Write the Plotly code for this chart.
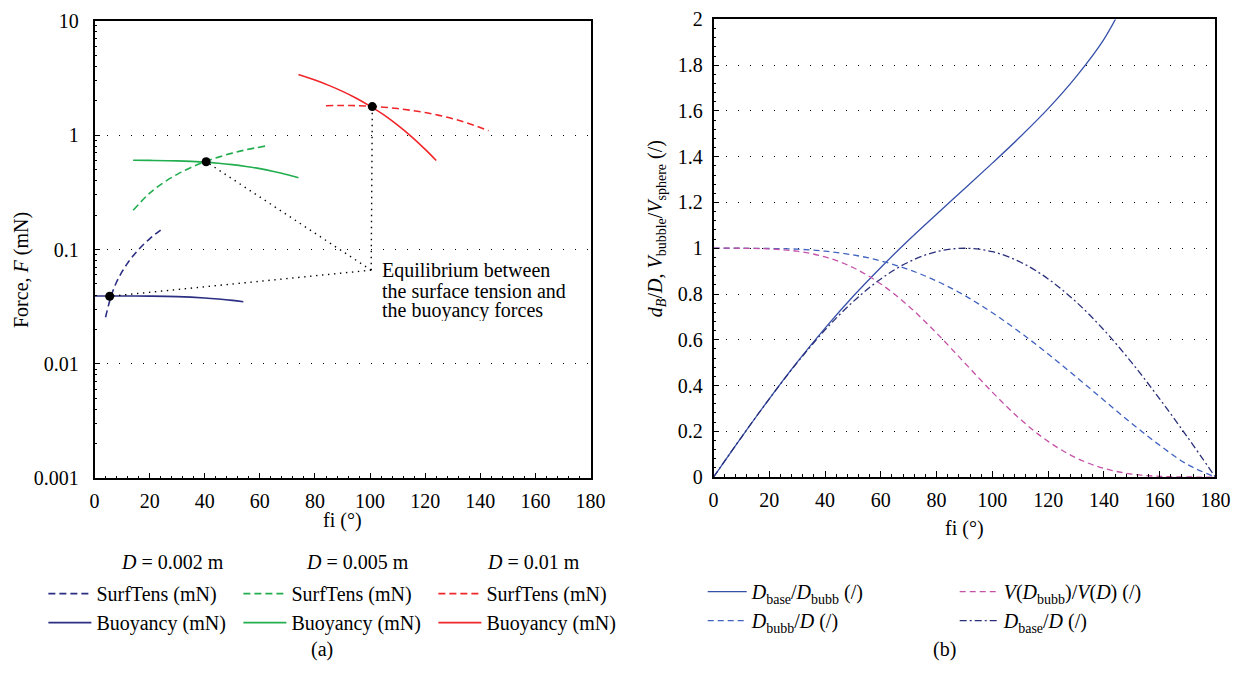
import plotly.graph_objects as go

W, H = 1256, 678
FONT = "Liberation Serif"

# ---------------- data: panel (a) ----------------
# D = 0.002 m
st1_x = [4, 6, 8, 10, 12, 14, 16, 18, 20, 22, 24]
st1_y = [0.0256, 0.039, 0.052, 0.064, 0.076, 0.088, 0.100, 0.112, 0.124, 0.136, 0.148]
by1_x = [0, 10, 20, 30, 40, 45, 50, 54]
by1_y = [0.0392, 0.0392, 0.0391, 0.0387, 0.0377, 0.0369, 0.0359, 0.0349]
# D = 0.005 m
st2_x = [14, 20, 25, 30, 35, 40, 45, 50, 55, 62]
st2_y = [0.220, 0.311, 0.384, 0.454, 0.521, 0.584, 0.642, 0.696, 0.744, 0.802]
by2_x = [14, 20, 30, 40, 45, 50, 55, 60, 65, 70, 74]
by2_y = [0.603, 0.601, 0.595, 0.580, 0.568, 0.552, 0.532, 0.509, 0.481, 0.450, 0.423]
# D = 0.01 m
st3_x = [84, 90, 95, 100, 105, 110, 115, 120, 125, 130, 135, 143]
st3_y = [1.806, 1.816, 1.809, 1.788, 1.754, 1.706, 1.646, 1.573, 1.488, 1.391, 1.284, 1.093]
by3_x = [74, 80, 85, 90, 95, 100, 105, 110, 115, 120, 124]
by3_y = [3.38, 3.03, 2.72, 2.41, 2.10, 1.79, 1.50, 1.22, 0.97, 0.75, 0.60]

# equilibrium points and the annotation anchor
eq_x = [5.5, 40.5, 100.8]
eq_y = [0.039, 0.585, 1.775]
anchor_x, anchor_y = 100.4, 0.066

# ---------------- data: panel (b) ----------------
fi = [0, 10, 20, 30, 40, 50, 60, 70, 80, 90, 100, 110, 120, 130, 140, 150, 160, 170, 180]
dbase_dbubb_x = [0, 10, 20, 30, 40, 50, 60, 70, 80, 90, 100, 110, 120, 130, 140, 150]
dbase_dbubb = [0, 0.174, 0.342, 0.502, 0.651, 0.789, 0.916, 1.036, 1.149, 1.26,
               1.372, 1.487, 1.61, 1.749, 1.913, 2.14]
dbubb_d = [1.0, 1.0, 0.999, 0.996, 0.987, 0.971, 0.945, 0.907, 0.857, 0.794,
           0.718, 0.632, 0.538, 0.438, 0.336, 0.234, 0.139, 0.055, 0.0]
v_ratio = [1.0, 1.0, 0.997, 0.987, 0.962, 0.916, 0.844, 0.747, 0.629, 0.5,
           0.371, 0.253, 0.156, 0.084, 0.038, 0.013, 0.003, 0.0005, 0.0]
dbase_d = [0, 0.174, 0.342, 0.5, 0.643, 0.766, 0.866, 0.94, 0.985, 1.0,
           0.985, 0.94, 0.866, 0.766, 0.643, 0.5, 0.342, 0.174, 0]

log_ticks = [0.001, 0.01, 0.1, 1, 10]
log_ticktext = ["0.001", "0.01", "0.1", "1", "10"]
log_minor = [m * 10.0 ** e for e in range(-3, 1) for m in range(2, 10)]

NAVY = "#2b2e83"
GREEN = "#22ad4e"
RED = "#f0262b"
BLUE_S = "#3550a8"
BLUE_D = "#4062c0"
MAGENTA = "#c552a8"
NAVY_DD = "#2a2f7a"


def fx(p):
    return p / W


def fy(p):
    return 1 - p / H


fig = go.Figure()

groups = [
    ("d1", NAVY, st1_x, st1_y, by1_x, by1_y),
    ("d2", GREEN, st2_x, st2_y, by2_x, by2_y),
    ("d3", RED, st3_x, st3_y, by3_x, by3_y),
]
for g, col, sx, sy, bx, by in groups:
    fig.add_trace(go.Scatter(x=sx, y=sy, mode="lines", line=dict(color=col, width=1.6, dash="7px,4px", shape="spline"),
                             name="SurfTens (mN)", legendgroup=g, legend="legend", xaxis="x", yaxis="y"))
    fig.add_trace(go.Scatter(x=bx, y=by, mode="lines", line=dict(color=col, width=1.6, shape="spline"),
                             name="Buoyancy (mN)", legendgroup=g, legend="legend", xaxis="x", yaxis="y"))

# leader lines from the annotation to each equilibrium point
lx, ly = [], []
for x, y in zip(eq_x, eq_y):
    lx += [anchor_x, x, None]
    ly += [anchor_y, y, None]
fig.add_trace(go.Scatter(x=lx, y=ly, mode="lines", line=dict(color="black", width=1.4, dash="1.4px,4.6px"),
                         showlegend=False, hoverinfo="skip", xaxis="x", yaxis="y"))
fig.add_trace(go.Scatter(x=eq_x, y=eq_y, mode="markers", marker=dict(color="black", size=9),
                         showlegend=False, xaxis="x", yaxis="y"))

# panel (b)
fig.add_trace(go.Scatter(x=dbase_dbubb_x, y=dbase_dbubb, mode="lines",
                         line=dict(color=BLUE_S, width=1.3, shape="spline"),
                         name="<i>D</i><sub>base</sub>/<i>D</i><sub>bubb</sub> (/)", legendgroup="c1",
                         legend="legend2", xaxis="x2", yaxis="y2"))
fig.add_trace(go.Scatter(x=fi, y=dbubb_d, mode="lines",
                         line=dict(color=BLUE_D, width=1.3, dash="6px,4px", shape="spline"),
                         name="<i>D</i><sub>bubb</sub>/<i>D</i> (/)", legendgroup="c1",
                         legend="legend2", xaxis="x2", yaxis="y2"))
fig.add_trace(go.Scatter(x=fi, y=v_ratio, mode="lines",
                         line=dict(color=MAGENTA, width=1.3, dash="6px,4px", shape="spline"),
                         name="<i>V</i>(<i>D</i><sub>bubb</sub>)/<i>V</i>(<i>D</i>) (/)", legendgroup="c2",
                         legend="legend2", xaxis="x2", yaxis="y2"))
fig.add_trace(go.Scatter(x=fi, y=dbase_d, mode="lines",
                         line=dict(color=NAVY_DD, width=1.3, dash="7px,3px,2px,3px", shape="spline"),
                         name="<i>D</i><sub>base</sub>/<i>D</i> (/)", legendgroup="c2",
                         legend="legend2", xaxis="x2", yaxis="y2"))

axis_common = dict(
    showline=True, linecolor="black", linewidth=1.6, mirror=True,
    ticks="inside", ticklen=6, tickwidth=1.4, tickcolor="black",
    zeroline=False, tickfont=dict(family=FONT, size=20, color="black"),
    ticklabeloverflow="allow",
)
grid = dict(showgrid=True, gridcolor="black", gridwidth=1.4, griddash="1.4px,10.6px")

fig.update_layout(
    width=W, height=H,
    margin=dict(l=0, r=0, t=0, b=0),
    paper_bgcolor="white", plot_bgcolor="white",
    font=dict(family=FONT, size=20, color="black"),
    xaxis=dict(domain=[fx(91), fx(595)], range=[0, 180.0001], dtick=20, showgrid=False,
               minor=dict(dtick=4, ticks="inside", ticklen=3, tickcolor="black", showgrid=False),
               ticklabelstandoff=4, anchor="y", **axis_common),
    yaxis=dict(domain=[fy(483), fy(10)], type="log", range=[-3.0001, 1.0001],
               tickvals=log_ticks, ticktext=log_ticktext,
               minor=dict(tickvals=log_minor, ticks="inside", ticklen=3, tickcolor="black", showgrid=False),
               ticklabelstandoff=10, anchor="x", **grid, **axis_common),
    xaxis2=dict(domain=[fx(720), fx(1230)], range=[0, 180.0001], dtick=20, showgrid=False,
                minor=dict(dtick=4, ticks="inside", ticklen=3, tickcolor="black", showgrid=False),
                ticklabelstandoff=4, anchor="y2", **axis_common),
    yaxis2=dict(domain=[fy(481.7), fy(8.7)], range=[0, 2.0001], dtick=0.2,
                minor=dict(dtick=0.04, ticks="inside", ticklen=3, tickcolor="black", showgrid=False),
                ticklabelstandoff=5, anchor="x2", **grid, **axis_common),
    legend=dict(orientation="h", traceorder="grouped", x=fx(39), y=fy(582), xanchor="left", yanchor="top",
                itemwidth=43, entrywidth=137, bgcolor="rgba(0,0,0,0)",
                font=dict(family=FONT, size=20, color="black")),
    legend2=dict(orientation="h", traceorder="grouped", x=fx(709), y=fy(580), xanchor="left", yanchor="top",
                 itemwidth=39, entrywidth=198, bgcolor="rgba(0,0,0,0)",
                 font=dict(family=FONT, size=20, color="black")),
    showlegend=True,
)

ann = []
# axis titles
ann.append(dict(text="fi (°)", x=fx(343), y=fy(527), xref="paper", yref="paper", showarrow=False,
                xanchor="center", yanchor="middle"))
ann.append(dict(text="fi (°)", x=fx(975), y=fy(535), xref="paper", yref="paper", showarrow=False,
                xanchor="center", yanchor="middle"))
ann.append(dict(text="Force, <i>F</i> (mN)", x=fx(17), y=fy(268), xref="paper", yref="paper",
                showarrow=False, textangle=-90, xanchor="center", yanchor="middle"))
ann.append(dict(text="<i>d<sub>B</sub></i>/<i>D</i>, <i>V</i><sub>bubble</sub>/<i>V</i><sub>sphere</sub> (/)",
                x=fx(662), y=fy(225), xref="paper", yref="paper",
                showarrow=False, textangle=-90, xanchor="center", yanchor="middle"))
# equilibrium note
for txt, py in [("Equilibrium between", 268), ("the surface tension and", 289), ("the buoyancy forces", 310)]:
    ann.append(dict(text=txt, x=104, xref="x", y=fy(py), yref="paper", showarrow=False,
                    xanchor="left", yanchor="middle", height=21, borderpad=0, valign="middle"))
# legend headers
for txt, px in [("<i>D</i> = 0.002 m", 170), ("<i>D</i> = 0.005 m", 358), ("<i>D</i> = 0.01 m", 537)]:
    ann.append(dict(text=txt, x=fx(px), y=fy(569), xref="paper", yref="paper", showarrow=False,
                    xanchor="center", yanchor="middle"))
# panel labels
ann.append(dict(text="(a)", x=fx(322), y=fy(660), xref="paper", yref="paper", showarrow=False,
                xanchor="center", yanchor="middle"))
ann.append(dict(text="(b)", x=fx(955), y=fy(660), xref="paper", yref="paper", showarrow=False,
                xanchor="center", yanchor="middle"))

fig.update_layout(annotations=ann)

fig.write_html(
    "out.html",
    config={"displayModeBar": False},
    post_script=(
        "document.documentElement.style.overflow='hidden';"
        "document.documentElement.style.margin='0px';"
        "document.body.style.margin='0px';"
        "document.body.style.overflow='hidden';"
        "var gd=document.getElementById('{plot_id}');"
        "gd.style.position='fixed';gd.style.left='0px';gd.style.top='0px';"
    ),
)
